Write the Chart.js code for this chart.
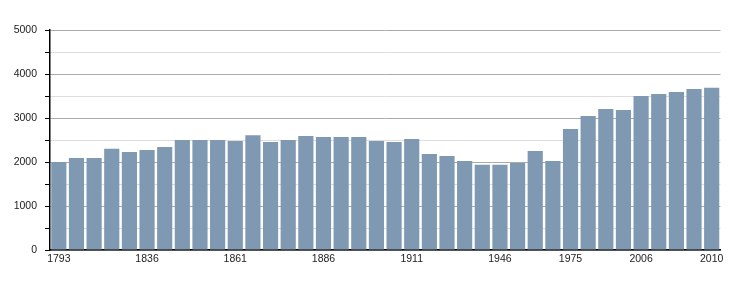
<!DOCTYPE html>
<html>
<head>
<meta charset="utf-8">
<script src="https://cdn.jsdelivr.net/npm/chart.js@4"></script>
<style>
  html, body { margin: 0; padding: 0; background: #fff; }
  #wrap { width: 750px; height: 300px; }
</style>
</head>
<body>
<div id="wrap"><canvas id="chart" width="750" height="300"></canvas></div>
<script>
const years = [
  "1793", "1800", "1806", "1821", "1831", "1836", "1841", "1846", "1851", "1856",
  "1861", "1866", "1872", "1876", "1881", "1886", "1891", "1896", "1901", "1906",
  "1911", "1921", "1926", "1931", "1936", "1946", "1954", "1962", "1968", "1975",
  "1982", "1990", "1999", "2006", "2007", "2008", "2009", "2010"
];
const population = [
  2000, 2090, 2090, 2300, 2230, 2270, 2340, 2500, 2500, 2500,
  2480, 2610, 2455, 2500, 2590, 2570, 2570, 2570, 2480, 2455,
  2525, 2180, 2135, 2025, 1935, 1935, 1980, 2250, 2025, 2750,
  3045, 3205, 3180, 3500, 3545, 3590, 3660, 3685
];
const shownYears = ["1793", "1836", "1861", "1886", "1911", "1946", "1975", "2006", "2010"];
const yTicks = [0, 1000, 2000, 3000, 4000, 5000];

const ctx = document.getElementById("chart").getContext("2d");

new Chart(ctx, {
  type: "bar",
  data: {
    labels: years,
    datasets: [
      {
        data: population,
        backgroundColor: "rgb(127,153,178)",
        borderWidth: 0,
        categoryPercentage: 1,
        barPercentage: 0.86,
      },
    ],
  },
  options: {
    responsive: false,
    animation: false,
    layout: { padding: { top: 30, right: 29.5, left: 0, bottom: 0 } },
    plugins: {
      legend: { display: false },
      tooltip: { enabled: false },
    },
    scales: {
      x: {
        grid: { display: false, drawTicks: false },
        border: { color: "#000", width: 1.5 },
        ticks: {
          autoSkip: false,
          maxRotation: 0,
          padding: 3,
          color: "#222",
          font: { family: "Liberation Sans", size: 10.5 },
          callback: function (value) {
            const y = years[value];
            return shownYears.includes(y) ? y : "";
          },
        },
        afterFit: (scale) => { scale.height = 50; },
      },
      y: {
        min: 0,
        max: 5000,
        border: { color: "#000", width: 1.5 },
        grid: {
          color: (c) => (c.tick.value % 1000 === 0 ? "#aaa" : "#ddd"),
          tickColor: "#000",
          tickLength: 5,
        },
        ticks: {
          stepSize: 500,
          padding: 8,
          color: "#222",
          font: { family: "Liberation Sans", size: 10.5 },
          callback: function (value) {
            return yTicks.includes(value) ? value : "";
          },
        },
        afterFit: (scale) => { scale.width = 50; },
      },
    },
  },
});
</script>
</body>
</html>
